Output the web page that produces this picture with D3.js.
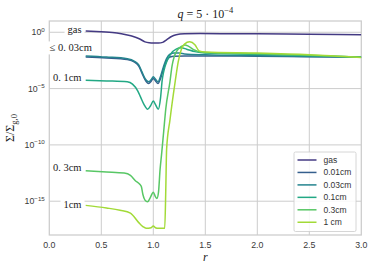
<!DOCTYPE html>
<html><head><meta charset="utf-8">
<script src="https://cdn.jsdelivr.net/npm/d3@7"></script>
<style>
body{margin:0;background:#fff;}
svg{display:block;}
</style></head>
<body><svg id="c" width="374" height="271"></svg>
<script>
// ---- data (values are log10 of Sigma/Sigma_g0) ----
const seriesNames = ["gas","0.01cm","0.03cm","0.1cm","0.3cm","1 cm"];
const gasR   = [0.35,0.5,0.65,0.75,0.8,0.87,0.92,0.96,1.0,1.05,1.09,1.13,1.17,1.22,1.3,1.45,2.0,2.5,3.0];
const gasLog = [0.12,0.04,-0.06,-0.24,-0.35,-0.6,-0.85,-0.93,-0.95,-0.95,-0.9,-0.65,-0.4,-0.22,-0.14,-0.12,-0.14,-0.17,-0.21];
const d001R   = [0.35,0.55,0.75,0.82,0.86,0.89,0.92,0.955,0.98,1.0,1.02,1.045,1.07,1.1,1.13,1.16,1.2,1.3,1.5,2.0,2.5,3.0];
const d001Log = [-2.2,-2.28,-2.42,-2.65,-3.0,-3.6,-4.2,-4.55,-4.35,-4.1,-4.3,-4.55,-4.1,-3.2,-2.5,-2.2,-2.12,-2.1,-2.1,-2.12,-2.17,-2.22];
const d003R   = [0.35,0.55,0.75,0.82,0.86,0.89,0.92,0.955,0.98,1.0,1.02,1.045,1.07,1.1,1.13,1.16,1.2,1.25,1.3,1.5,2.0,2.5,3.0];
const d003Log = [-2.1,-2.2,-2.35,-2.58,-2.9,-3.5,-4.1,-4.4,-4.2,-3.95,-4.15,-4.4,-3.9,-3.0,-2.3,-1.95,-1.85,-1.85,-1.92,-2.0,-2.08,-2.15,-2.22];
const d01R   = [0.35,0.55,0.75,0.8,0.85,0.88,0.91,0.945,0.975,1.0,1.02,1.048,1.07,1.085,1.1,1.13,1.17,1.22,1.27,1.32,1.4,1.5,2.0,2.5,3.0];
const d01Log = [-4.26,-4.32,-4.4,-4.6,-5.2,-5.8,-6.4,-6.83,-6.5,-6.1,-6.4,-6.83,-5.8,-4.3,-3.5,-2.6,-1.9,-1.5,-1.38,-1.5,-1.72,-1.85,-1.95,-2.08,-2.2];
const d03R   = [0.35,0.55,0.72,0.78,0.83,0.87,0.885,0.9,0.92,0.945,0.97,1.0,1.02,1.035,1.05,1.065,1.08,1.1,1.12,1.16,1.18,1.2,1.23,1.27,1.305,1.34,1.4,1.45,1.5,2.0,2.5,3.0];
const d03Log = [-12.3,-12.4,-12.5,-12.7,-13.2,-13.5,-13.7,-14.4,-14.9,-15.05,-14.7,-14.2,-14.6,-14.75,-14.2,-12.2,-10.8,-8.8,-6.8,-4.4,-3.0,-2.2,-1.6,-1.25,-1.12,-1.25,-1.6,-1.75,-1.8,-1.9,-2.05,-2.22];
const d1R   = [0.35,0.55,0.68,0.78,0.86,0.9,0.93,0.98,1.0,1.02,1.05,1.08,1.11,1.12,1.128,1.16,1.21,1.24,1.27,1.3,1.35,1.4,1.44,1.5,2.0,2.5,3.0];
const d1Log = [-15.37,-15.6,-15.8,-16.05,-16.9,-17.25,-17.4,-17.35,-17.2,-17.35,-17.4,-17.4,-17.4,-14.0,-10.4,-7.8,-4.4,-2.6,-1.5,-1.05,-0.85,-1.1,-1.65,-1.75,-1.85,-2.0,-2.25];
const xTicks = [0.0,0.5,1.0,1.5,2.0,2.5,3.0];
const yTickExps = [0,-5,-10,-15];
const curveLabels = ["gas","≤ 0. 03cm","0. 1cm","0. 3cm","1cm"];
const curveLabelR = [0.31,0.41,0.31,0.31,0.31];
const curveLabelLog = [0.25,-1.39,-4.05,-12.05,-15.3];

// ---- layout ----
const W=374,H=271;
const L=49.3,R=361.3,T=21,B=235;
const svg=d3.select("#c");
const x=d3.scaleLinear().domain([0,3]).range([L,R]);
const y=d3.scaleLog().domain([1e-18,1e1]).range([B,T]);
const colors=[0.17,0.3,0.45,0.6,0.74,0.86].map(t=>d3.interpolateViridis(t));
const series=[[gasR,gasLog],[d001R,d001Log],[d003R,d003Log],[d01R,d01Log],[d03R,d03Log],[d1R,d1Log]];

// grid
const g=svg.append("g");
g.selectAll(".vx").data(xTicks.slice(1,-1)).join("line")
 .attr("x1",d=>x(d)).attr("x2",d=>x(d)).attr("y1",T).attr("y2",B)
 .attr("stroke","#cccccc").attr("stroke-width",1);
g.selectAll(".hy").data(yTickExps).join("line")
 .attr("x1",L).attr("x2",R).attr("y1",d=>y(Math.pow(10,d))).attr("y2",d=>y(Math.pow(10,d)))
 .attr("stroke","#cccccc").attr("stroke-width",1);

// frame
svg.append("rect").attr("x",L).attr("y",T).attr("width",R-L).attr("height",B-T)
 .attr("fill","none").attr("stroke","#cccccc").attr("stroke-width",1.25);

// lines
const clip=svg.append("clipPath").attr("id","clp").append("rect").attr("x",L).attr("y",T).attr("width",R-L).attr("height",B-T);
const line=d3.line().curve(d3.curveMonotoneX).x(d=>x(d[0])).y(d=>y(Math.pow(10,d[1])));
series.forEach((s,i)=>{
  const pts=s[0].map((r,j)=>[r,s[1][j]]);
  svg.append("path").attr("d",line(pts)).attr("fill","none")
   .attr("stroke",colors[i]).attr("stroke-width",1.5).attr("clip-path","url(#clp)");
});

// curve labels with white boxes
curveLabels.forEach((t,i)=>{
  const tx=x(curveLabelR[i]), ty=y(Math.pow(10,curveLabelLog[i]));
  const tg=svg.append("g");
  const te=tg.append("text").attr("x",tx).attr("y",ty).attr("text-anchor","end")
    .attr("dominant-baseline","central")
    .attr("font-family","'Liberation Serif','DejaVu Serif',serif").attr("font-size",10.5)
    .attr("fill","#222").text(t);
  const bb=te.node().getBBox();
  tg.insert("rect","text").attr("x",bb.x-3).attr("y",bb.y-1).attr("width",bb.width+6).attr("height",bb.height+2).attr("fill","#fff");
});

// x tick labels
svg.selectAll(".xt").data(xTicks).join("text")
 .attr("x",d=>x(d)).attr("y",248).attr("text-anchor","middle")
 .attr("font-family","'Liberation Sans',Arial,sans-serif").attr("font-size",8.8).attr("fill","#3a3a3a")
 .text(d=>d.toFixed(1));

// y tick labels
yTickExps.forEach(e=>{
  const t=svg.append("text").attr("x",L-4.5).attr("y",y(Math.pow(10,e))+3).attr("text-anchor","end")
   .attr("font-family","'Liberation Sans',Arial,sans-serif").attr("font-size",8.8).attr("fill","#3a3a3a");
  t.append("tspan").text("10");
  t.append("tspan").attr("dy",-3.5).attr("font-size",6.2).text(e===0?"0":"\u2212"+(-e));
});

// title
const ti=svg.append("text").attr("x",(L+R)/2).attr("y",18).attr("text-anchor","middle")
 .attr("font-family","'Liberation Serif','DejaVu Serif',serif").attr("font-size",12).attr("fill","#222");
ti.append("tspan").attr("font-style","italic").text("q");
ti.append("tspan").text(" = 5 · 10");
ti.append("tspan").attr("dy",-5).attr("font-size",8.5).text("\u22124");

// x label
svg.append("text").attr("x",(L+R)/2).attr("y",261).attr("text-anchor","middle")
 .attr("font-family","'Liberation Serif','DejaVu Serif',serif").attr("font-style","italic")
 .attr("font-size",12).attr("fill","#222").text("r");

// y label
const yl=svg.append("text").attr("transform",`translate(14,${(T+B)/2}) rotate(-90)`).attr("text-anchor","middle")
 .attr("font-family","'Liberation Serif','DejaVu Serif',serif").attr("font-size",12).attr("fill","#222");
yl.append("tspan").text("Σ/Σ");
yl.append("tspan").attr("dy",3).attr("font-size",8.5).text("g,0");

// legend
const lg=svg.append("g");
lg.append("rect").attr("x",294).attr("y",152).attr("width",62).attr("height",79.5)
 .attr("fill","#fff").attr("fill-opacity",0.85).attr("stroke","#cccccc").attr("stroke-width",0.8).attr("rx",1.5);
seriesNames.forEach((n,i)=>{
  const yy=160+i*12.45;
  lg.append("line").attr("x1",297.5).attr("x2",316.5).attr("y1",yy).attr("y2",yy)
    .attr("stroke",colors[i]).attr("stroke-width",1.5);
  lg.append("text").attr("x",323.5).attr("y",yy).attr("dominant-baseline","central")
    .attr("font-family","'Liberation Sans',Arial,sans-serif").attr("font-size",8.5).attr("fill","#333").text(n);
});
</script></body></html>
